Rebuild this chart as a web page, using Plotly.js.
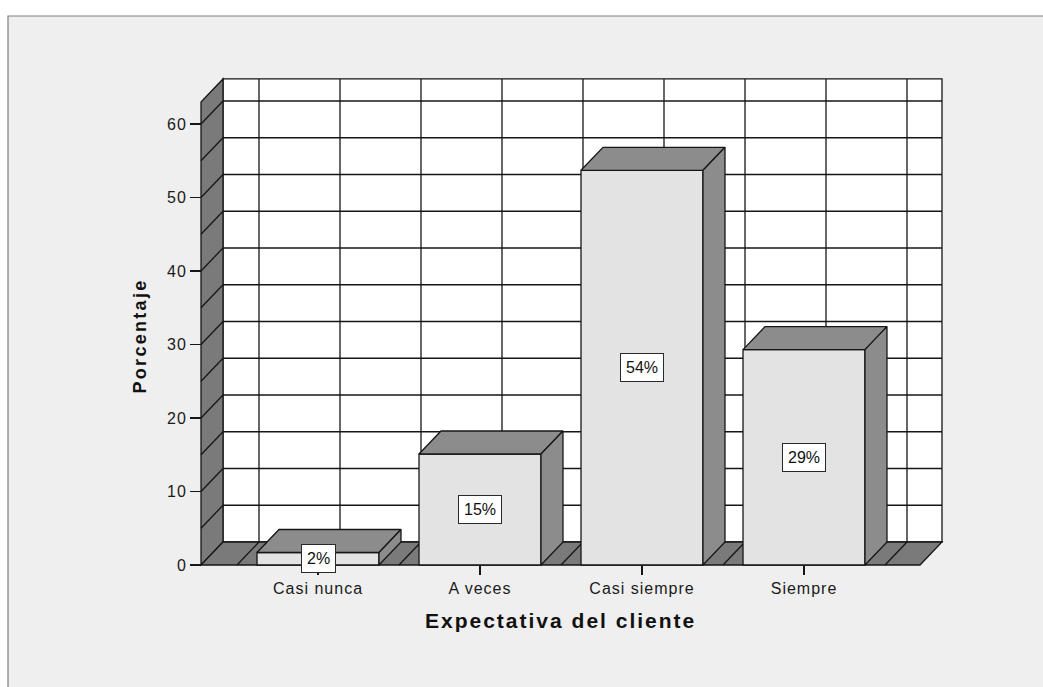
<!DOCTYPE html>
<html>
<head>
<meta charset="utf-8">
<script src="https://cdn.plot.ly/plotly-3.0.1.min.js"></script>
<style>
html, body { margin: 0; padding: 0; background: #ffffff; }
#chart { width: 1043px; height: 687px; }
.xtick text { letter-spacing: 1px; }
.ytick text { letter-spacing: 1px; }
</style>
</head>
<body>
<div id="chart"></div>
<script>
// ---- data ----
const categories = ['Casi nunca', 'A veces', 'Casi siempre', 'Siempre'];
const percentages = [1.7, 15.1, 53.7, 29.3];
const valueLabels = ['2%', '15%', '54%', '29%'];
const yTickValues = [0, 10, 20, 30, 40, 50, 60];
const xAxisTitle = 'Expectativa del cliente';
const yAxisTitle = 'Porcentaje';

// ---- geometry (pixel layout -> axis units) ----
const W = 1043, H = 687;
const plotL = 198, plotR = 946, plotT = 76, plotB = 568;
const cat0Px = 318, zeroPx = 565;
const pxPerX = 162, pxPerY = 7.35;
const xRange = [(plotL - cat0Px) / pxPerX, (plotR - cat0Px) / pxPerX];
const yRange = [(zeroPx - plotB) / pxPerY, (zeroPx - plotT) / pxPerY];
const DX = 22 / pxPerX, DY = 23 / pxPerY;       // 3D depth offset
const xL = (201 - cat0Px) / pxPerX, xR = (920 - cat0Px) / pxPerX;
const wallTop = 63;
const barW = 0.753;

const EDGE = '#161616', WALL = '#7a7a7a', SIDE = '#8c8c8c', FRONT = '#e3e3e3';
const LW = 1.3;

function pathOf(pts) {
  return 'M ' + pts.map(p => p[0] + ',' + p[1]).join(' L ') + ' Z';
}
const shapes = [];
// outer frame
shapes.push({
  type: 'rect', xref: 'paper', yref: 'paper', layer: 'below',
  x0: (8 - plotL) / (plotR - plotL), x1: (1080 - plotL) / (plotR - plotL),
  y0: (plotB - 720) / (plotB - plotT), y1: (plotB - 16) / (plotB - plotT),
  fillcolor: '#efefef', line: { color: '#7f7f7f', width: 1.2 }
});
// back wall
shapes.push({
  type: 'path', xref: 'x', yref: 'y', layer: 'below',
  path: pathOf([[xL + DX, DY], [xR + DX, DY], [xR + DX, wallTop + DY], [xL + DX, wallTop + DY]]),
  fillcolor: '#ffffff', line: { color: EDGE, width: LW }
});
for (let v = 5; v <= 60; v += 5) {
  shapes.push({ type: 'line', xref: 'x', yref: 'y', layer: 'below',
    x0: xL + DX, x1: xR + DX, y0: v + DY, y1: v + DY, line: { color: EDGE, width: LW } });
}
const gridX = [];
for (let x = -0.5; x <= 3.5001; x += 0.5) gridX.push(x);
gridX.forEach(x => {
  shapes.push({ type: 'line', xref: 'x', yref: 'y', layer: 'below',
    x0: x + DX, x1: x + DX, y0: DY, y1: wallTop + DY, line: { color: EDGE, width: LW } });
});
// left wall
shapes.push({
  type: 'path', xref: 'x', yref: 'y', layer: 'below',
  path: pathOf([[xL, 0], [xL, wallTop], [xL + DX, wallTop + DY], [xL + DX, DY]]),
  fillcolor: WALL, line: { color: EDGE, width: LW }
});
for (let v = 5; v <= 60; v += 5) {
  shapes.push({ type: 'line', xref: 'x', yref: 'y', layer: 'below',
    x0: xL, x1: xL + DX, y0: v, y1: v + DY, line: { color: EDGE, width: LW } });
}
// floor
shapes.push({
  type: 'path', xref: 'x', yref: 'y', layer: 'below',
  path: pathOf([[xL, 0], [xR, 0], [xR + DX, DY], [xL + DX, DY]]),
  fillcolor: WALL, line: { color: EDGE, width: LW }
});
gridX.forEach(x => {
  shapes.push({ type: 'line', xref: 'x', yref: 'y', layer: 'below',
    x0: x, x1: x + DX, y0: 0, y1: DY, line: { color: EDGE, width: LW } });
});

// ---- traces ----
const xs = categories.map((c, i) => i);
const traces = [{
  type: 'bar', x: xs, y: percentages, width: barW, base: 0,
  marker: { color: FRONT, line: { color: EDGE, width: LW } },
  hoverinfo: 'skip', showlegend: false
}];
percentages.forEach((v, i) => {
  const a = i - barW / 2, b = i + barW / 2;
  const top = [[a, v], [a + DX, v + DY], [b + DX, v + DY], [b, v], [a, v]];
  const side = [[b, 0], [b, v], [b + DX, v + DY], [b + DX, DY], [b, 0]];
  [top, side].forEach(poly => traces.push({
    type: 'scatter', mode: 'lines', fill: 'toself', fillcolor: SIDE,
    x: poly.map(p => p[0]), y: poly.map(p => p[1]),
    line: { color: EDGE, width: LW }, hoverinfo: 'skip', showlegend: false
  }));
});

// ---- annotations ----
const annotations = percentages.map((v, i) => ({
  x: i, y: v / 2, xref: 'x', yref: 'y', text: valueLabels[i], showarrow: false,
  bgcolor: '#ffffff', bordercolor: '#2a2a2a', borderwidth: 1, borderpad: 5,
  font: { family: 'Liberation Sans, Arial, sans-serif', size: 16, color: '#111' }
}));
annotations.push({
  xref: 'paper', yref: 'paper', x: (560 - plotL) / (plotR - plotL), y: (plotB - 620) / (plotB - plotT),
  text: '<b>' + xAxisTitle + '</b>', showarrow: false, xanchor: 'center', yanchor: 'middle',
  font: { family: 'Liberation Sans, Arial, sans-serif', size: 21, color: '#111' }
});
annotations.push({
  xref: 'paper', yref: 'paper', x: (140 - plotL) / (plotR - plotL), y: (plotB - 336) / (plotB - plotT),
  text: '<b>' + yAxisTitle + '</b>', showarrow: false, textangle: -90, xanchor: 'center', yanchor: 'middle',
  font: { family: 'Liberation Sans, Arial, sans-serif', size: 18, color: '#111' }
});

const layout = {
  width: W, height: H,
  margin: { l: plotL, r: W - plotR, t: plotT, b: H - plotB, pad: 0 },
  paper_bgcolor: '#ffffff', plot_bgcolor: 'rgba(0,0,0,0)',
  showlegend: false,
  xaxis: {
    type: 'linear', range: xRange, anchor: 'free', position: (plotB - zeroPx) / (plotB - plotT),
    tickmode: 'array', tickvals: xs, ticktext: categories,
    ticks: 'outside', ticklen: 9, tickwidth: 1.3, tickcolor: EDGE,
    showgrid: false, zeroline: false, showline: false, fixedrange: true,
    tickfont: { family: 'Liberation Sans, Arial, sans-serif', size: 16, color: '#1a1a1a' }
  },
  yaxis: {
    type: 'linear', range: yRange, anchor: 'free', position: (201 - plotL) / (plotR - plotL),
    tickmode: 'array', tickvals: yTickValues,
    ticks: 'outside', ticklen: 11, tickwidth: 1.3, tickcolor: EDGE,
    showgrid: false, zeroline: false, showline: false, fixedrange: true,
    tickfont: { family: 'Liberation Sans, Arial, sans-serif', size: 16, color: '#1a1a1a' }
  },
  shapes: shapes,
  annotations: annotations
};

Plotly.newPlot('chart', traces, layout, { staticPlot: true, displayModeBar: false }).then(gd => {
  gd.querySelectorAll('.annotation-text').forEach(t => {
    if (t.textContent === xAxisTitle) t.style.letterSpacing = '2px';
    if (t.textContent === yAxisTitle) t.style.letterSpacing = '2.3px';
  });
});
</script>
</body>
</html>
